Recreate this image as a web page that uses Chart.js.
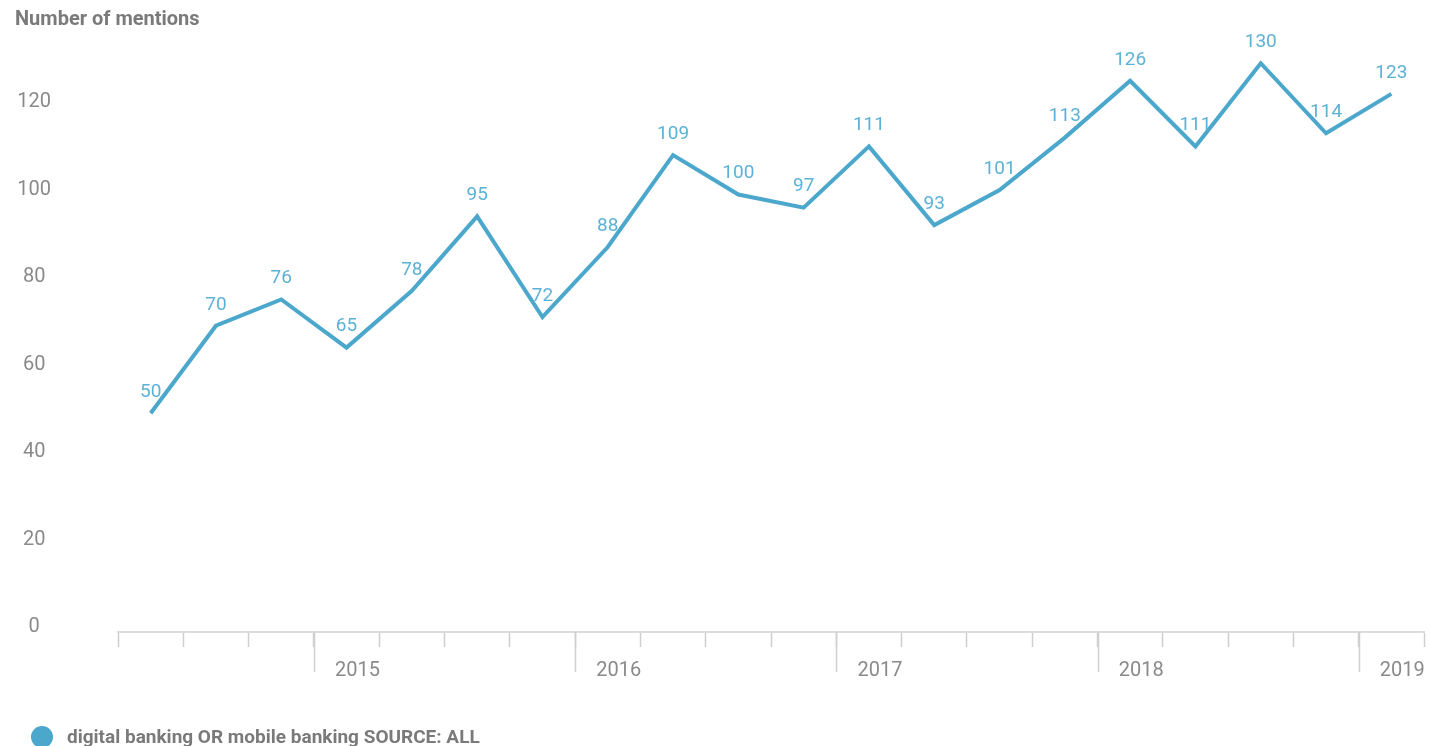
<!DOCTYPE html>
<html>
<head>
<meta charset="utf-8">
<script src="https://cdn.jsdelivr.net/npm/chart.js@4"></script>
<style>
  html, body { margin: 0; padding: 0; background: #fff; }
  #wrap { position: relative; width: 1430px; height: 746px; overflow: hidden; font-family: Roboto, sans-serif; }
  #title { position: absolute; left: 15px; top: 6px; font-size: 20px; font-weight: bold; color: #7a7a7a; }
  #legend { position: absolute; left: 31px; top: 725px; font-size: 19px; font-weight: bold; color: #7a7a7a; display: flex; align-items: center; }
  #legend span.dot { width: 22px; height: 22px; border-radius: 50%; background: #4ba7cc; margin-right: 14px; }
</style>
</head>
<body>
<div id="wrap">
  <canvas id="mentionsChart" width="1430" height="746"></canvas>
  <div id="title">Number of mentions</div>
  <div id="legend"><span class="dot"></span>digital banking OR mobile banking SOURCE: ALL</div>
</div>
<script>
const quarters = [
  "2014 Q2", "2014 Q3", "2014 Q4",
  "2015 Q1", "2015 Q2", "2015 Q3", "2015 Q4",
  "2016 Q1", "2016 Q2", "2016 Q3", "2016 Q4",
  "2017 Q1", "2017 Q2", "2017 Q3", "2017 Q4",
  "2018 Q1", "2018 Q2", "2018 Q3", "2018 Q4",
  "2019 Q1"
];
const mentions = [50, 70, 76, 65, 78, 95, 72, 88, 109, 100, 97, 111, 93, 101, 113, 126, 111, 130, 114, 123];
const yTicks = [0, 20, 40, 60, 80, 100, 120];

const lineColor = "#4ba7cc";

// value labels above each point
const valueLabels = {
  id: "valueLabels",
  afterDatasetsDraw(chart) {
    const ctx = chart.ctx;
    const meta = chart.getDatasetMeta(0);
    ctx.save();
    ctx.font = "19px Roboto";
    ctx.fillStyle = "#5cb2d6";
    ctx.textAlign = "center";
    ctx.textBaseline = "middle";
    meta.data.forEach((pt, i) => {
      ctx.fillText(String(mentions[i]), pt.x, pt.y - 21);
    });
    ctx.restore();
  }
};

// longer tick at the start of every year
const yearTicks = {
  id: "yearTicks",
  afterDraw(chart) {
    const x = chart.scales.x;
    const ctx = chart.ctx;
    const half = (x.getPixelForValue(1) - x.getPixelForValue(0)) / 2;
    ctx.save();
    ctx.strokeStyle = "#cfcfcf";
    ctx.lineWidth = 1.5;
    quarters.forEach((q, i) => {
      if (q.endsWith("Q1")) {
        const px = Math.round(x.getPixelForValue(i) - half) + 0.5;
        ctx.beginPath();
        ctx.moveTo(px, x.top);
        ctx.lineTo(px, x.top + 40);
        ctx.stroke();
      }
    });
    ctx.restore();
  }
};

const ctx = document.getElementById("mentionsChart").getContext("2d");
new Chart(ctx, {
  type: "line",
  data: {
    labels: quarters,
    datasets: [{
      label: "digital banking OR mobile banking SOURCE: ALL",
      data: mentions,
      borderColor: lineColor,
      backgroundColor: lineColor,
      borderWidth: 4,
      pointRadius: 0,
      tension: 0,
      fill: false
    }]
  },
  options: {
    responsive: false,
    animation: false,
    layout: { padding: { left: 0, right: 6, top: 19.5, bottom: 0 } },
    plugins: {
      legend: { display: false },
      tooltip: { enabled: false }
    },
    scales: {
      x: {
        offset: true,
        afterFit(scale) { scale.height = 114; },
        grid: {
          offset: true,
          drawOnChartArea: false,
          tickLength: 15,
          tickColor: "#cfcfcf",
          tickWidth: 1.5
        },
        border: { color: "#dcdcdc", width: 2 },
        ticks: {
          autoSkip: false,
          maxRotation: 0,
          padding: 12,
          labelOffset: 11,
          color: "#8a8a8a",
          font: { family: "Roboto", size: 20 },
          callback(value, index) {
            const q = quarters[index];
            return q.endsWith("Q1") ? q.slice(0, 4) : "";
          }
        }
      },
      y: {
        min: 0,
        max: 140,
        afterFit(scale) {
          scale.width = 118;
          scale.paddingTop = 0;
          scale.paddingBottom = 0;
        },
        afterBuildTicks(scale) {
          scale.ticks = yTicks.map(v => ({ value: v }));
        },
        grid: { display: false, drawTicks: false },
        border: { display: false },
        ticks: {
          crossAlign: "center",
          padding: 67,
          labelOffset: -5,
          color: "#8a8a8a",
          font: { family: "Roboto", size: 20 }
        }
      }
    }
  },
  plugins: [valueLabels, yearTicks]
});
</script>
</body>
</html>
